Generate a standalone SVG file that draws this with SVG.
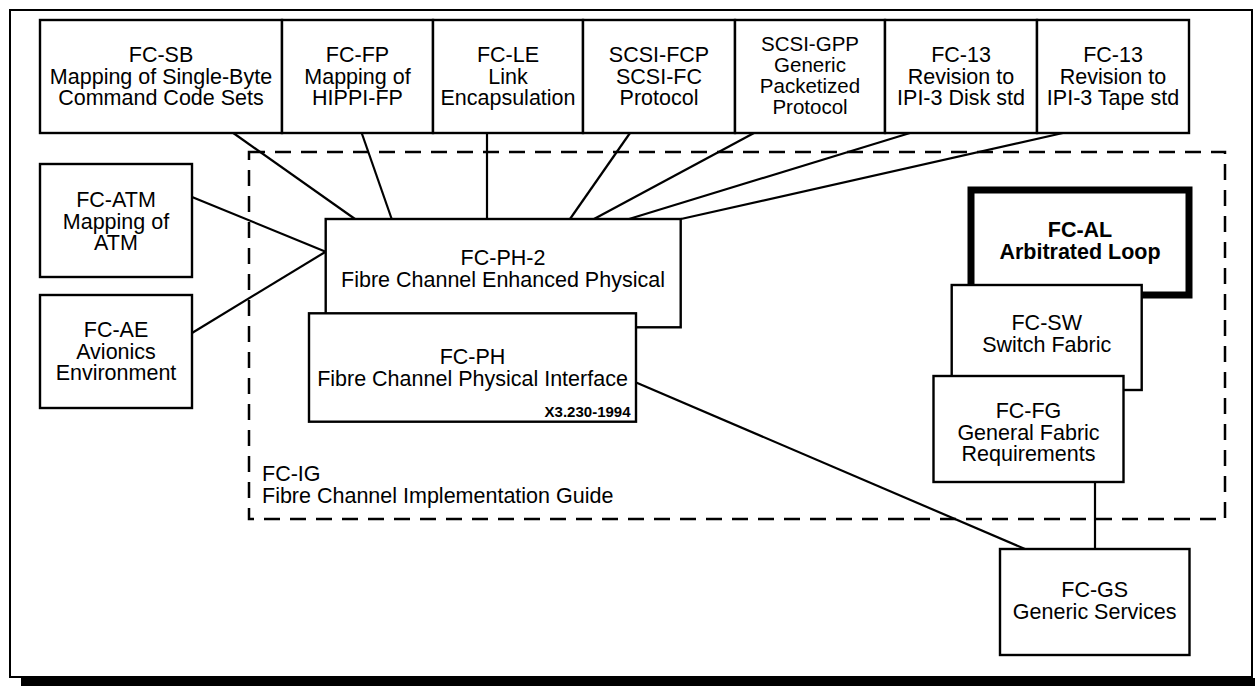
<svg xmlns="http://www.w3.org/2000/svg" width="1255" height="686" viewBox="0 0 1255 686">
<style>
text{font-family:"Liberation Sans",Arial,Helvetica,sans-serif;font-size:21.5px;fill:#000;text-anchor:middle}
.b{font-weight:bold}
.s{font-size:20.5px}
.box{fill:#fff;stroke:#000;stroke-width:2.4}
.con line{stroke:#000;stroke-width:2.2}
</style>
<rect x="0" y="0" width="1255" height="686" fill="#fff"/>
<g id="frame">
<rect x="10" y="10" width="1242" height="667" fill="#fff" stroke="#000" stroke-width="2"/>
<rect x="21" y="678" width="1240" height="10" fill="#000"/>
</g>
<g id="fc-ig">
<rect x="249" y="152" width="976" height="367" fill="none" stroke="#000" stroke-width="2.5" stroke-dasharray="16 10"/>
<text x="262" y="481" style="text-anchor:start">FC-IG</text>
<text x="262" y="503" style="text-anchor:start">Fibre Channel Implementation Guide</text>
</g>
<g id="connectors" class="con">
<line x1="233.3" y1="133" x2="355" y2="219"/>
<line x1="361.7" y1="133" x2="391.7" y2="219"/>
<line x1="487" y1="133" x2="487" y2="219"/>
<line x1="630" y1="133" x2="570" y2="219"/>
<line x1="754" y1="133" x2="594" y2="219"/>
<line x1="910" y1="133" x2="629" y2="219"/>
<line x1="1063" y1="133" x2="681" y2="219"/>
<line x1="192" y1="197" x2="325.7" y2="251.7"/>
<line x1="192" y1="333" x2="325.7" y2="251.7"/>
<line x1="636.7" y1="382.7" x2="1025" y2="549"/>
<line x1="1095" y1="482" x2="1095" y2="549"/>
</g>
<g id="fc-sb"><rect class="box" x="40" y="20" width="242" height="113"/>
<text x="161" y="62">FC-SB</text><text x="161" y="83.5">Mapping of Single-Byte</text><text x="161" y="105">Command Code Sets</text></g>
<g id="fc-fp"><rect class="box" x="282" y="20" width="151" height="113"/>
<text x="357.5" y="62">FC-FP</text><text x="357.5" y="83.5">Mapping of</text><text x="357.5" y="105">HIPPI-FP</text></g>
<g id="fc-le"><rect class="box" x="433" y="20" width="150" height="113"/>
<text x="508" y="62">FC-LE</text><text x="508" y="83.5">Link</text><text x="508" y="105">Encapsulation</text></g>
<g id="scsi-fcp"><rect class="box" x="583" y="20" width="152" height="113"/>
<text x="659" y="62">SCSI-FCP</text><text x="659" y="83.5">SCSI-FC</text><text x="659" y="105">Protocol</text></g>
<g id="scsi-gpp"><rect class="box" x="735" y="20" width="150" height="113"/>
<text class="s" x="810" y="50.5">SCSI-GPP</text><text class="s" x="810" y="71.5">Generic</text><text class="s" x="810" y="92.5">Packetized</text><text class="s" x="810" y="113.5">Protocol</text></g>
<g id="fc-13-disk"><rect class="box" x="885" y="20" width="152" height="113"/>
<text x="961" y="62">FC-13</text><text x="961" y="83.5">Revision to</text><text x="961" y="105">IPI-3 Disk std</text></g>
<g id="fc-13-tape"><rect class="box" x="1037" y="20" width="152" height="113"/>
<text x="1113" y="62">FC-13</text><text x="1113" y="83.5">Revision to</text><text x="1113" y="105">IPI-3 Tape std</text></g>
<g id="fc-atm"><rect class="box" x="40" y="164" width="152" height="113"/>
<text x="116" y="207">FC-ATM</text><text x="116" y="228.5">Mapping of</text><text x="116" y="250">ATM</text></g>
<g id="fc-ae"><rect class="box" x="40" y="295" width="152" height="113"/>
<text x="116" y="337">FC-AE</text><text x="116" y="358.5">Avionics</text><text x="116" y="380">Environment</text></g>
<g id="fc-ph-2"><rect class="box" x="325.7" y="219" width="355" height="108.3"/>
<text x="503" y="265">FC-PH-2</text><text x="503" y="287">Fibre Channel Enhanced Physical</text></g>
<g id="fc-ph"><rect class="box" x="309" y="313.3" width="327" height="108.4"/>
<text x="472.5" y="364">FC-PH</text><text x="472.5" y="385.5">Fibre Channel Physical Interface</text>
<text class="b" x="630.5" y="417" style="font-size:15px;text-anchor:end">X3.230-1994</text></g>
<g id="fc-al"><rect x="971" y="190" width="218" height="105" fill="#fff" stroke="#000" stroke-width="7"/>
<text class="b" x="1080" y="237">FC-AL</text><text class="b" x="1080" y="258.5">Arbitrated Loop</text></g>
<g id="fc-sw"><rect class="box" x="951.7" y="285" width="190" height="105"/>
<text x="1046.7" y="330">FC-SW</text><text x="1046.7" y="351.5">Switch Fabric</text></g>
<g id="fc-fg"><rect class="box" x="933.5" y="376" width="190" height="106"/>
<text x="1028.5" y="418">FC-FG</text><text x="1028.5" y="439.5">General Fabric</text><text x="1028.5" y="461">Requirements</text></g>
<g id="fc-gs"><rect class="box" x="1000" y="549" width="189.5" height="106"/>
<text x="1094.7" y="597">FC-GS</text><text x="1094.7" y="619">Generic Services</text></g>
</svg>
